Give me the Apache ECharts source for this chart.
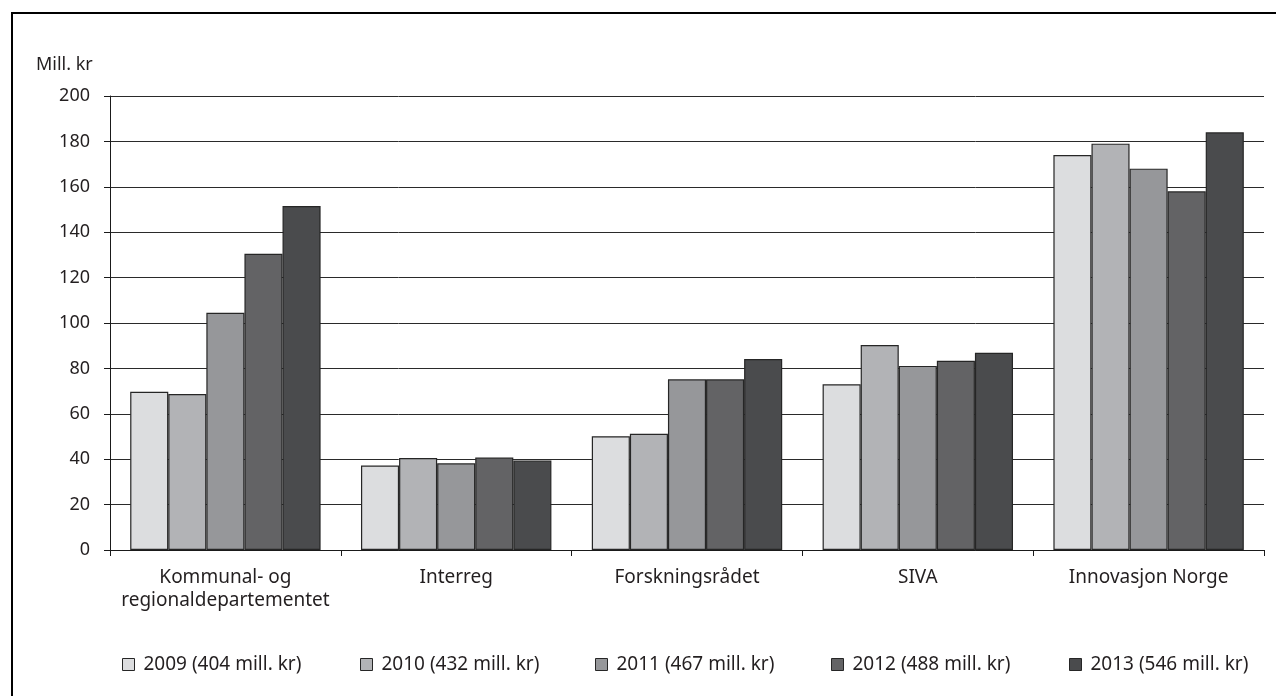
<!DOCTYPE html>
<html>
<head>
<meta charset="utf-8">
<script src="https://cdn.jsdelivr.net/npm/echarts@6/dist/echarts.min.js"></script>
<style>
html,body{margin:0;padding:0;background:#fff;}
#chart{width:1276px;height:696px;}
</style>
</head>
<body>
<div id="chart"></div>
<script>
var categories = ['Kommunal- og\nregionaldepartementet', 'Interreg', 'Forskningsrådet', 'SIVA', 'Innovasjon Norge'];
var seriesNames = ['2009 (404 mill. kr)', '2010 (432 mill. kr)', '2011 (467 mill. kr)', '2012 (488 mill. kr)', '2013 (546 mill. kr)'];
var values2009 = [69.7, 37.2, 50.1, 73.0, 174.0];
var values2010 = [68.7, 40.5, 51.2, 90.3, 179.0];
var values2011 = [104.5, 38.2, 75.2, 81.1, 168.0];
var values2012 = [130.5, 40.7, 75.2, 83.4, 158.0];
var values2013 = [151.5, 39.4, 84.1, 86.9, 184.0];
var yTicks = {min: 0, max: 200, interval: 20};

var allValues = [values2009, values2010, values2011, values2012, values2013];
var colors = ['#dcdddf', '#b2b3b6', '#96979a', '#636365', '#4a4b4d'];
var legendLefts = [117, 355, 590, 826, 1064];
var textColor = '#231f20';
var font = 'Noto Sans';

var chart = echarts.init(document.getElementById('chart'));
var series = seriesNames.map(function (n, i) {
  return {
    name: n,
    type: 'bar',
    data: allValues[i],
    barGap: '0%',
    barCategoryGap: '17.5%',
    itemStyle: {color: colors[i], borderColor: '#262626', borderWidth: 1.2},
    emphasis: {disabled: true},
    animation: false
  };
});
var legends = seriesNames.map(function (n, i) {
  return {
    data: [n],
    left: legendLefts[i],
    top: 650,
    orient: 'horizontal',
    icon: 'rect',
    itemWidth: 12,
    itemHeight: 12,
    selectedMode: false,
    itemStyle: {borderColor: '#262626', borderWidth: 1},
    textStyle: {fontFamily: font, fontSize: 19, color: textColor, padding: [0, 0, 0, 4]}
  };
});

chart.setOption({
  animation: false,
  backgroundColor: '#fff',
  title: {
    text: 'Mill. kr',
    left: 31,
    top: 51,
    textStyle: {fontFamily: font, fontSize: 18, fontWeight: 'normal', color: textColor}
  },
  graphic: [{
    type: 'rect',
    shape: {x: 12, y: 13, width: 1300, height: 720},
    style: {fill: 'none', stroke: '#000', lineWidth: 2},
    silent: true
  }],
  legend: legends,
  grid: {left: 110, right: 12, top: 96, bottom: 146, containLabel: false},
  xAxis: {
    type: 'category',
    data: categories,
    boundaryGap: true,
    axisLine: {show: true, lineStyle: {color: '#1a1a1a', width: 1}},
    axisTick: {show: true, length: 6, lineStyle: {color: '#1a1a1a'}},
    axisLabel: {fontFamily: font, fontSize: 19, color: textColor, margin: 16, lineHeight: 23, interval: 0}
  },
  yAxis: {
    type: 'value',
    min: yTicks.min,
    max: yTicks.max,
    interval: yTicks.interval,
    axisLine: {show: true, lineStyle: {color: '#1a1a1a', width: 1}},
    axisTick: {show: true, length: 6, lineStyle: {color: '#1a1a1a'}},
    axisLabel: {fontFamily: font, fontSize: 18, color: textColor, margin: 20},
    splitLine: {show: true, lineStyle: {color: '#2a2a2a', width: 1}}
  },
  series: series
});
</script>
</body>
</html>
